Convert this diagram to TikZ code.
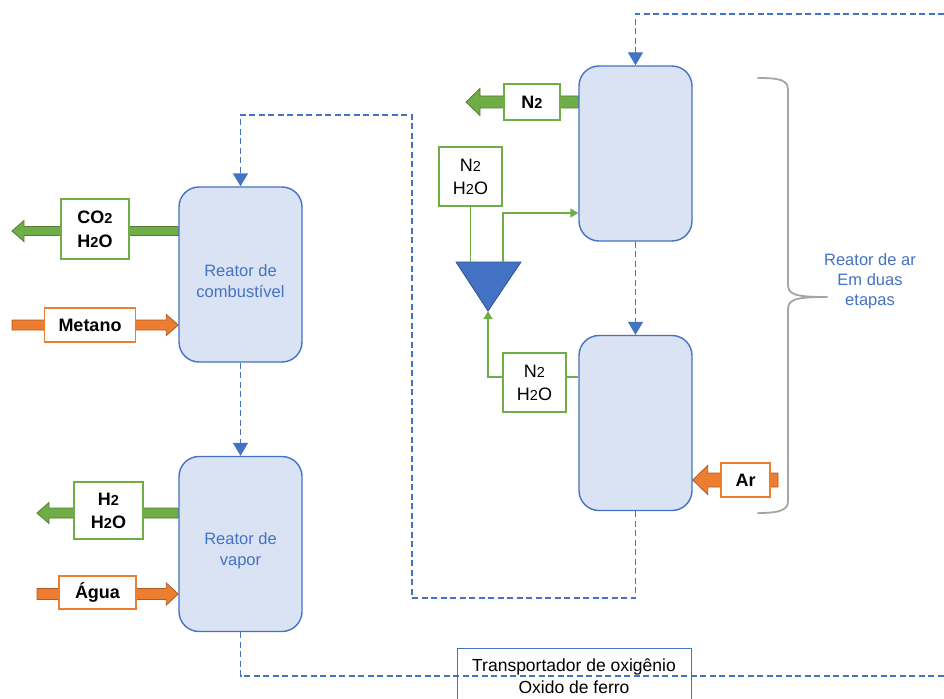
\documentclass[tikz,border=0pt]{standalone}
\usepackage{fontspec}
\setmainfont{Liberation Sans}
\usetikzlibrary{arrows.meta,calc,backgrounds}

\definecolor{accblue}{HTML}{4472C4}
\definecolor{reactfill}{HTML}{DAE3F3}
\definecolor{grn}{HTML}{70AD47}
\definecolor{grndark}{HTML}{507E32}
\definecolor{org}{HTML}{ED7D31}
\definecolor{orgdark}{HTML}{AE5A21}
\definecolor{bracegray}{HTML}{A5A5A5}
\definecolor{tridark}{HTML}{2F528F}

% smaller digit for chemical formulas
\newcommand\chemsub[1]{{\fontsize{14.5}{14.5}\selectfont #1}}

% horizontal block arrow: tail, tip, fill, outline, shaft half-width, head half-width, head length
\newcommand\blockarrow[7]{%
  \draw[fill=#3, draw=#4, line width=0.8pt, line join=miter]
    let \p1=(#1), \p2=(#2), \n1={ifthenelse(\x2>\x1,1,-1)} in
    (\x1,\y1+#5) -- ({\x2-\n1*#7},\y1+#5) -- ({\x2-\n1*#7},\y1+#6) -- (\x2,\y1)
    -- ({\x2-\n1*#7},\y1-#6) -- ({\x2-\n1*#7},\y1-#5) -- (\x1,\y1-#5) -- cycle;}

\tikzset{
  reactor/.style={draw=accblue, fill=reactfill, line width=1.4pt, rounded corners=20pt,
    minimum width=#1, minimum height=175pt, inner sep=0pt},
  reactlbl/.style={text=accblue, align=center, font=\fontsize{16.5}{21}\selectfont},
  gbox/.style={draw=grn, fill=white, line width=1.2pt, align=center, inner sep=0pt,
    font=\fontsize{18}{23}\selectfont},
  obox/.style={draw=org, fill=white, line width=1.2pt, align=center, inner sep=0pt,
    font=\bfseries\fontsize{18}{22}\selectfont},
  flow/.style={draw=accblue, line width=1.4pt, dash pattern=on 6pt off 3.5pt},
  flowin/.style={flow, -{Triangle[width=15pt,length=13pt]}},
  gline/.style={draw=grn, line width=1.4pt},
  glinein/.style={gline, -{Triangle[width=9pt,length=8pt]}},
}

\begin{document}
\begin{tikzpicture}[x=1pt, y=-1pt]
\useasboundingbox (0,0) rectangle (944,698);

% reactors
\node[reactor=123pt] (fuel)  at (240.5,274.5) {};
\node[reactor=123pt] (steam) at (240.5,544) {};
\node[reactor=113pt] (airT)  at (635.5,153.5) {};
\node[reactor=113pt] (airB)  at (635.5,423) {};

\node[reactlbl] (fuellbl)  at (240.5,281) {Reator de\\combustível};
\node[reactlbl] (steamlbl) at (240.5,551) {Reator de\\vapor};

% stream labels
\node[gbox, font=\bfseries\fontsize{18}{24}\selectfont, minimum width=68pt, minimum height=60pt]
  (co2) at (95,229) {CO\chemsub{2}\\H\chemsub{2}O};
\node[obox, minimum width=91pt, minimum height=34pt] (metano) at (90,325) {Metano};
\node[gbox, font=\bfseries\fontsize{18}{23}\selectfont, minimum width=69pt, minimum height=57pt]
  (h2) at (108.5,510.5) {H\chemsub{2}\\H\chemsub{2}O};
\node[obox, minimum width=77pt, minimum height=33pt] (agua) at (97.5,592.5) {Água};
\node[gbox, font=\bfseries\fontsize{18}{22}\selectfont, minimum width=56pt, minimum height=36pt]
  (n2out) at (532,102) {N\chemsub{2}};
\node[gbox, minimum width=63pt, minimum height=59pt] (n2top) at (470.5,176.5) {N\chemsub{2}\\H\chemsub{2}O};
\node[gbox, minimum width=63pt, minimum height=59pt] (n2bot) at (534.5,382.5) {N\chemsub{2}\\H\chemsub{2}O};
\node[obox, minimum width=49pt, minimum height=34pt] (ar) at (745.5,480) {Ar};

% splitter
\coordinate (triL) at (456,262);
\coordinate (triR) at (521,262);
\coordinate (triB) at (488,311);
\coordinate (triOut) at (503,262);
\draw[fill=accblue, draw=tridark, line width=0.8pt] (triL) -- (triR) -- (triB) -- cycle;

% oxygen carrier label
\node[draw=accblue, line width=1pt, minimum width=234pt, minimum height=56pt, anchor=north,
  align=center, inner sep=0pt, font=\fontsize{17.5}{22}\selectfont] (carrier) at (574,648)
  {Transportador de oxigênio\\Oxido de ferro};

% free ends of the solid loop
\coordinate (loopR1) at (944,14);
\coordinate (loopR2) at (944,676);
\coordinate (loopA) at (412,598);
\coordinate (loopB) at (412,115);

\begin{scope}[on background layer]
  \fill[white] (0,0) rectangle (944,698);
  % block arrows
  \coordinate (co2tip) at (12,231);
  \blockarrow{fuel.west |- co2tip}{co2tip}{grn}{grndark}{4.5pt}{10.5pt}{12pt}
  \coordinate (metanotail) at (12,325);
  \blockarrow{metanotail}{fuel.west |- metanotail}{org}{orgdark}{5pt}{10.5pt}{12pt}
  \coordinate (h2tip) at (37,513);
  \blockarrow{steam.west |- h2tip}{h2tip}{grn}{grndark}{5pt}{10.5pt}{12pt}
  \coordinate (aguatail) at (37,594);
  \blockarrow{aguatail}{steam.west |- aguatail}{org}{orgdark}{5.5pt}{11pt}{12pt}
  \coordinate (n2tip) at (466,102);
  \blockarrow{airT.west |- n2tip}{n2tip}{grn}{grndark}{6pt}{13.5pt}{14pt}
  \coordinate (artail) at (778,480);
  \blockarrow{artail}{airB.east |- artail}{org}{orgdark}{7pt}{14.5pt}{15pt}

  % solids circulation
  \draw[flow] (steam.south) |- (loopR2);
  \draw[flowin] (loopR1) -| (airT.north);
  \draw[flowin] (airT.south) -- (airB.north);
  \draw[flowin] (airB.south) |- (loopA) -- (loopB) -| (fuel.north);
  \draw[flowin] (fuel.south) -- (steam.north);
\end{scope}

% gas lines around the splitter
\coordinate (recy) at (488,377);
\draw[gline] (n2top.south) -- (n2top.south |- triL);
\draw[glinein] (triOut) |- (airT.west |- 0,213);
\draw[gline] (airB.west |- recy) -- (n2bot.east |- recy);
\draw[glinein] (n2bot.west |- recy) -- (recy) -- (triB);

% brace grouping the two air stages
\draw[bracegray, line width=1.8pt, line cap=round]
  (758,78) .. controls (780,78) and (788,80) .. (788,90) -- (788,284)
  .. controls (788,294) and (793,297) .. (827,297);
\draw[bracegray, line width=1.8pt, line cap=round]
  (827,297) .. controls (793,297) and (788,300) .. (788,310) -- (788,501)
  .. controls (788,510) and (780,513) .. (758,513);
\node[reactlbl, font=\fontsize{16.5}{20}\selectfont] (bracelbl) at (870,281) {Reator de ar\\Em duas\\etapas};

\end{tikzpicture}
\end{document}
